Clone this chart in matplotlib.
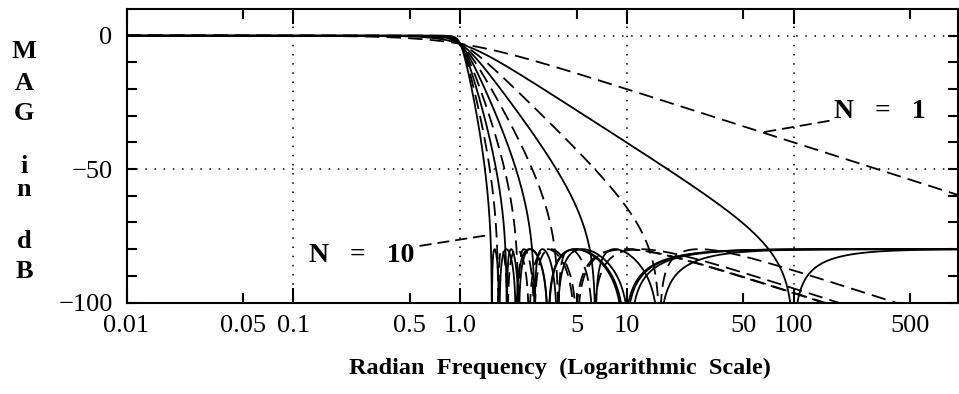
import matplotlib
matplotlib.use("Agg")
import matplotlib.pyplot as plt
import numpy as np
from matplotlib.ticker import FixedLocator, FixedFormatter

# Inverse Chebyshev (Chebyshev II) lowpass responses, N = 1..10
orders = [1, 2, 3, 4, 5, 6, 7, 8, 9, 10]
stopband_db = 80.0      # stopband attenuation
passband_db = 3.0103    # attenuation at the passband edge
passband_edge = 1.0     # rad/s

x_major = [0.01, 0.1, 1.0, 10, 100]
x_major_labels = ["0.01", "0.1", "1.0", "10", "100"]
x_minor = [0.05, 0.5, 5, 50, 500]
x_minor_labels = ["0.05", "0.5", "5", "50", "500"]
y_major = [0, -50, -100]
y_major_labels = ["0", "\u221250", "\u2212100"]
y_minor = [-10, -20, -30, -40, -60, -70, -80, -90]

plt.rcParams["font.family"] = ["Liberation Serif", "DejaVu Serif"]


def cheb(n, x):
    x = np.asarray(x, dtype=float)
    out = np.empty_like(x)
    inside = np.abs(x) <= 1
    out[inside] = np.cos(n * np.arccos(x[inside]))
    out[~inside] = np.cosh(n * np.arccosh(np.abs(x[~inside])))
    return out


def cheb2_db(n, w):
    eps2 = 1.0 / (10 ** (stopband_db / 10) - 1)
    g = 10 ** (-passband_db / 10)
    tn_edge = np.sqrt(g / (1 - g) / eps2)
    ws = passband_edge * np.cosh(np.arccosh(tn_edge) / n)
    t2 = eps2 * cheb(n, ws / w) ** 2
    mag2 = t2 / (1 + t2)
    return 10 * np.log10(np.maximum(mag2, 1e-14))


w = np.logspace(-2, 3, 40000)

fig = plt.figure(figsize=(9.59, 3.94), dpi=100)
ax = fig.add_axes([126.5 / 959, 1 - 302.5 / 394, 831 / 959, 293.5 / 394])

for n in orders:
    ls = (0, (8, 4)) if n % 2 == 1 else "-"
    ax.plot(w, cheb2_db(n, w), color="black", lw=1.3, linestyle=ls)

ax.set_xscale("log")
ax.set_xlim(0.01, 960)
ax.set_ylim(-100, 10)

ax.xaxis.set_major_locator(FixedLocator(x_major))
ax.xaxis.set_major_formatter(FixedFormatter(x_major_labels))
ax.xaxis.set_minor_locator(FixedLocator(x_minor))
ax.xaxis.set_minor_formatter(FixedFormatter(x_minor_labels))
ax.yaxis.set_major_locator(FixedLocator(y_major))
ax.yaxis.set_major_formatter(FixedFormatter(y_major_labels))
ax.yaxis.set_minor_locator(FixedLocator(y_minor))

ax.tick_params(axis="x", which="major", direction="in", length=11, width=1.5,
               top=True, labelsize=19, pad=9)
ax.tick_params(axis="x", which="minor", direction="in", length=7, width=1.5,
               top=True, labelsize=19, pad=9)
ax.tick_params(axis="y", which="both", direction="in", length=7, width=1.5,
               right=True, labelsize=19, pad=10)

ax.grid(True, which="major", color="black", linestyle=(0, (1, 5)), lw=1.1)
for s in ax.spines.values():
    s.set_linewidth(1.5)

ax.set_xlabel("Radian  Frequency  (Logarithmic  Scale)", fontsize=17.5,
              fontweight="bold")
ax.xaxis.set_label_coords(0.522, -0.188)

# stacked y label
ylabel_letters = ["M", "A", "G", "i", "n", "d", "B"]
ylabel_rows = [52, 83, 114, 166, 190, 242, 272]
for ch, yy in zip(ylabel_letters, ylabel_rows):
    fig.text(24 / 959, 1 - yy / 394, ch, ha="center", va="center",
             fontsize=19, fontweight="bold")

ax.annotate("N   =   1", xy=(64, -36.3), xytext=(330, -28.6),
            ha="center", va="center", fontsize=20, fontweight="bold",
            arrowprops=dict(arrowstyle="-", color="black", lw=1.3,
                            linestyle=(0, (6, 4)), shrinkA=2, shrinkB=0))
ax.annotate("N   =   10", xy=(1.49, -74.7), xytext=(0.258, -82.2),
            ha="center", va="center", fontsize=20, fontweight="bold",
            arrowprops=dict(arrowstyle="-", color="black", lw=1.3,
                            linestyle=(0, (6, 4)), shrinkA=2, shrinkB=0))

fig.savefig("out.png", dpi=100)
